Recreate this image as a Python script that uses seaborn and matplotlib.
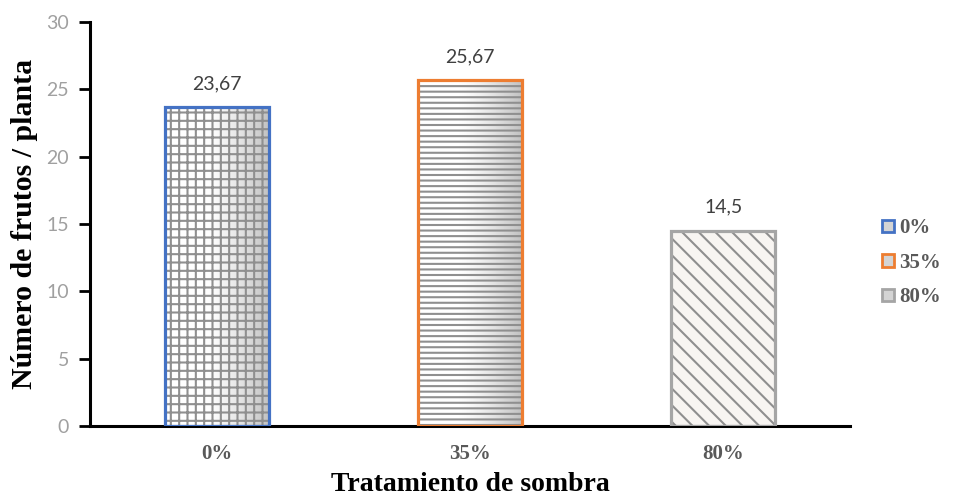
import numpy as np
import matplotlib
matplotlib.use("Agg")
import matplotlib.pyplot as plt
import seaborn as sns
from matplotlib.patches import Patch, Rectangle

categorias = ["0%", "35%", "80%"]
valores = [23.67, 25.67, 14.5]
etiquetas = ["23,67", "25,67", "14,5"]
bordes = ["#4472C4", "#ED7D31", "#A5A5A5"]
tramas = ["++", "---", "\\\\"]
yticks = [0, 5, 10, 15, 20, 25, 30]

sns.set_theme(style="white")
plt.rcParams["hatch.linewidth"] = 1.5
plt.rcParams["hatch.color"] = "#8f8f8f"

serif = ["Liberation Serif", "DejaVu Serif"]
sans = ["Lato", "DejaVu Sans"]

fig = plt.figure(figsize=(9.57, 4.96), dpi=100)
ax = fig.add_axes([0.094, 0.141, 0.794, 0.815])

sns.barplot(x=categorias, y=valores, hue=categorias, palette=["white"] * 3,
            legend=False, width=0.41, ax=ax, zorder=2)

# horizontal white-to-grey shading used as bar fill
t = np.linspace(0, 1, 256)
shade = 1 - 0.24 * np.clip((t - 0.4) / 0.6, 0, 1) ** 1.3
grad = np.dstack([shade, shade, shade]).repeat(2, axis=0)

for i, bar in enumerate(list(ax.patches)):
    x0, w = bar.get_x(), bar.get_width()
    h = bar.get_height()
    if i < 2:
        im = ax.imshow(grad, extent=[x0, x0 + w, 0, h], aspect="auto",
                       origin="lower", zorder=1)
        im.set_clip_path(bar)
        bar.set_facecolor("none")
    else:
        bar.set_facecolor("#f8f5f2")
    bar.set_hatch(tramas[i])
    bar.set_edgecolor("#8f8f8f")
    bar.set_linewidth(0)
    ax.add_patch(Rectangle((x0, 0), w, h, fill=False, edgecolor=bordes[i],
                           linewidth=2.3, zorder=3))
    ax.text(x0 + w / 2, h + 1.1, etiquetas[i], ha="center", va="bottom",
            fontsize=14, color="#404040", family=sans)

ax.set_xlim(-0.5, 2.5)
ax.set_ylim(0, 30)
ax.set_yticks(yticks)
ax.set_yticklabels([str(v) for v in yticks], family=sans, fontsize=14,
                   color="#a0a0a0")
ax.set_xticks(range(3))
ax.set_xticklabels(categorias, family=serif, fontsize=15, fontweight="bold",
                   color="#595959")
ax.tick_params(axis="y", direction="out", length=8, width=2, color="black",
               pad=7, left=True)
ax.tick_params(axis="x", length=0, pad=13)

for s in ["top", "right"]:
    ax.spines[s].set_visible(False)
for s in ["left", "bottom"]:
    ax.spines[s].set_color("black")
    ax.spines[s].set_linewidth(2.2)

ax.set_xlabel("Tratamiento de sombra", family=serif, fontsize=20,
              fontweight="bold", color="black", labelpad=6)
ax.set_ylabel("Número de frutos / planta", family=serif, fontsize=21.5,
              fontweight="bold", color="black", labelpad=6)

handles = [Patch(facecolor="#d4d4d4", edgecolor=c, linewidth=2) for c in bordes]
leg = fig.legend(handles, categorias, loc="center left",
                 bbox_to_anchor=(0.922, 0.47), frameon=False,
                 handlelength=0.55, handleheight=0.55, handletextpad=0.25,
                 labelspacing=0.7, borderaxespad=0, borderpad=0,
                 prop={"family": serif, "size": 15, "weight": "bold"})
for txt in leg.get_texts():
    txt.set_color("#595959")

fig.savefig("out.png", dpi=100)
